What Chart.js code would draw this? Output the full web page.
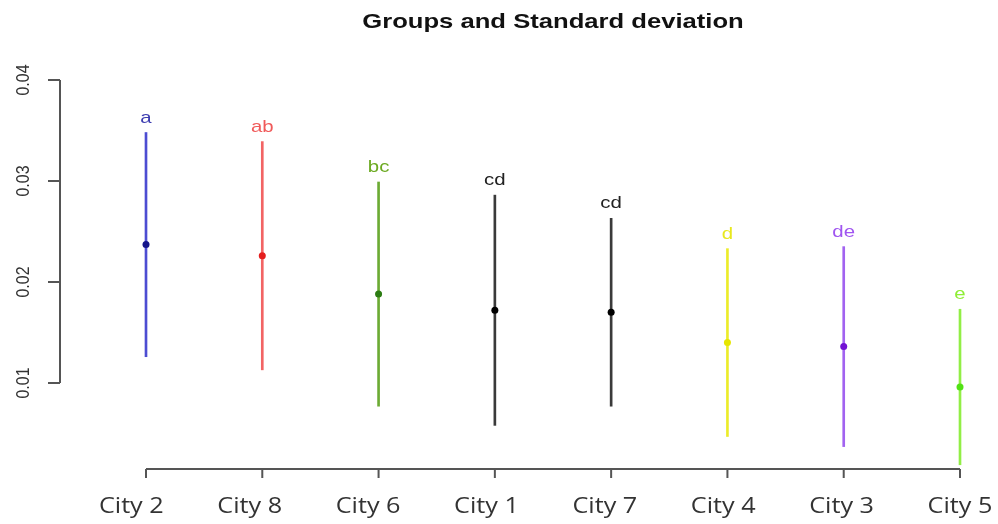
<!DOCTYPE html>
<html>
<head>
<meta charset="utf-8">
<title>Groups and Standard deviation</title>
<script src="https://cdn.jsdelivr.net/npm/chart.js@4/dist/chart.umd.min.js"></script>
<style>
  html, body { margin: 0; padding: 0; background: #ffffff; }
  #wrap { width: 998px; height: 524px; position: relative; }
</style>
</head>
<body>
<div id="wrap"><canvas id="chart"></canvas></div>
<script>
// Cities ordered by mean, with mean, standard deviation and letter group
const cities = ['City 2', 'City 8', 'City 6', 'City 1', 'City 7', 'City 4', 'City 3', 'City 5'];
const means  = [0.0237, 0.0226, 0.0188, 0.0172, 0.0170, 0.0140, 0.0136, 0.0096];
const sds    = [0.0111, 0.0113, 0.0111, 0.0114, 0.0093, 0.0093, 0.0099, 0.0077];
const groups = ['a', 'ab', 'bc', 'cd', 'cd', 'd', 'de', 'e'];
const yTicks = [0.01, 0.02, 0.03, 0.04];

// Colours per city: error bar line, mean point, group letter
const lineColors  = ['#4c4cd2', '#f26464', '#6cab34', '#3a3a3a', '#3a3a3a', '#ecec2a', '#a263f0', '#92ee46'];
const pointColors = ['#14148a', '#e41e1e', '#2c7c12', '#000000', '#000000', '#e6e600', '#7212d4', '#52e214'];
const labelColors = ['#3c3cb0', '#f05a5a', '#6caa22', '#222222', '#222222', '#e8e81e', '#a055f0', '#8eee34'];

const errorRanges = means.map((m, i) => [m - sds[i], m + sds[i]]);

const AXIS_COLOR = '#555555';
const TEXT_COLOR = '#333333';

// Text drawn with a slight horizontal widening
function wideText(ctx, text, x, y, sx, rotate) {
  ctx.save();
  ctx.translate(x, y);
  ctx.scale(sx, 1);
  if (rotate) ctx.rotate(-Math.PI / 2);
  ctx.fillText(text, 0, 0);
  ctx.restore();
}

const decorations = {
  id: 'decorations',
  afterDatasetsDraw(chart) {
    const ctx = chart.ctx;
    const xs = chart.scales.x;
    const ys = chart.scales.y;
    const area = chart.chartArea;
    const n = cities.length;

    ctx.save();
    // group letters above each error bar
    ctx.font = '17px "Liberation Sans", Arial, sans-serif';
    ctx.textAlign = 'center';
    ctx.textBaseline = 'alphabetic';
    groups.forEach((g, i) => {
      ctx.fillStyle = labelColors[i];
      const px = xs.getPixelForValue(i);
      const py = ys.getPixelForValue(errorRanges[i][1]) - 10;
      wideText(ctx, g, px, py, 1.2, false);
    });

    // title
    ctx.fillStyle = '#111111';
    ctx.font = 'bold 21px "Liberation Sans", Arial, sans-serif';
    ctx.textBaseline = 'alphabetic';
    wideText(ctx, 'Groups and Standard deviation', (area.left + area.right) / 2, 28, 1.22, false);

    ctx.strokeStyle = AXIS_COLOR;
    ctx.lineWidth = 2;
    ctx.lineCap = 'butt';

    // x axis: line from first to last category, with ticks
    const xFirst = xs.getPixelForValue(0);
    const xLast = xs.getPixelForValue(n - 1);
    const xAxisY = area.bottom + 1;
    ctx.beginPath();
    ctx.moveTo(xFirst, xAxisY);
    ctx.lineTo(xLast, xAxisY);
    cities.forEach((c, i) => {
      const px = xs.getPixelForValue(i);
      ctx.moveTo(px, xAxisY);
      ctx.lineTo(px, xAxisY + 9);
    });
    ctx.stroke();

    // category names, spread slightly wider than the tick spacing
    ctx.fillStyle = TEXT_COLOR;
    ctx.font = '21px "Open Sans", sans-serif';
    ctx.textAlign = 'center';
    ctx.textBaseline = 'alphabetic';
    cities.forEach((c, i) => {
      const px = xs.getPixelForValue(i) - (n - 1 - i) * 2.1;
      wideText(ctx, c, px, 513, 1.2, false);
    });

    // y axis: line spanning the tick range, rotated tick labels
    const yAxisX = 60;
    const yTop = ys.getPixelForValue(yTicks[yTicks.length - 1]);
    const yBot = ys.getPixelForValue(yTicks[0]);
    ctx.beginPath();
    ctx.moveTo(yAxisX, yTop);
    ctx.lineTo(yAxisX, yBot);
    yTicks.forEach(t => {
      const py = ys.getPixelForValue(t);
      ctx.moveTo(yAxisX, py);
      ctx.lineTo(yAxisX - 12, py);
    });
    ctx.stroke();

    ctx.font = '16px "Liberation Sans", Arial, sans-serif';
    ctx.textAlign = 'center';
    ctx.textBaseline = 'middle';
    yTicks.forEach(t => {
      wideText(ctx, t.toFixed(2), 24, ys.getPixelForValue(t), 1.2, true);
    });
    ctx.restore();
  }
};

new Chart(document.getElementById('chart'), {
  type: 'bar',
  data: {
    labels: cities,
    datasets: [
      {
        type: 'bar',
        label: 'Mean ± SD',
        data: errorRanges,
        backgroundColor: lineColors,
        borderWidth: 0,
        barThickness: 2,
        clip: false,
        order: 2
      },
      {
        type: 'line',
        label: 'Mean',
        data: means,
        showLine: false,
        pointRadius: 3.5,
        pointBorderWidth: 0,
        pointBackgroundColor: pointColors,
        pointBorderColor: pointColors,
        clip: false,
        order: 1
      }
    ]
  },
  options: {
    responsive: true,
    maintainAspectRatio: false,
    animation: false,
    layout: { padding: { left: 146, right: 38, top: 80, bottom: 56 } },
    plugins: {
      legend: { display: false },
      title: { display: false },
      tooltip: { enabled: false }
    },
    scales: {
      x: { type: 'category', offset: false, display: false },
      y: { type: 'linear', min: 0.00158, max: 0.04, display: false }
    }
  },
  plugins: [decorations]
});
</script>
</body>
</html>
